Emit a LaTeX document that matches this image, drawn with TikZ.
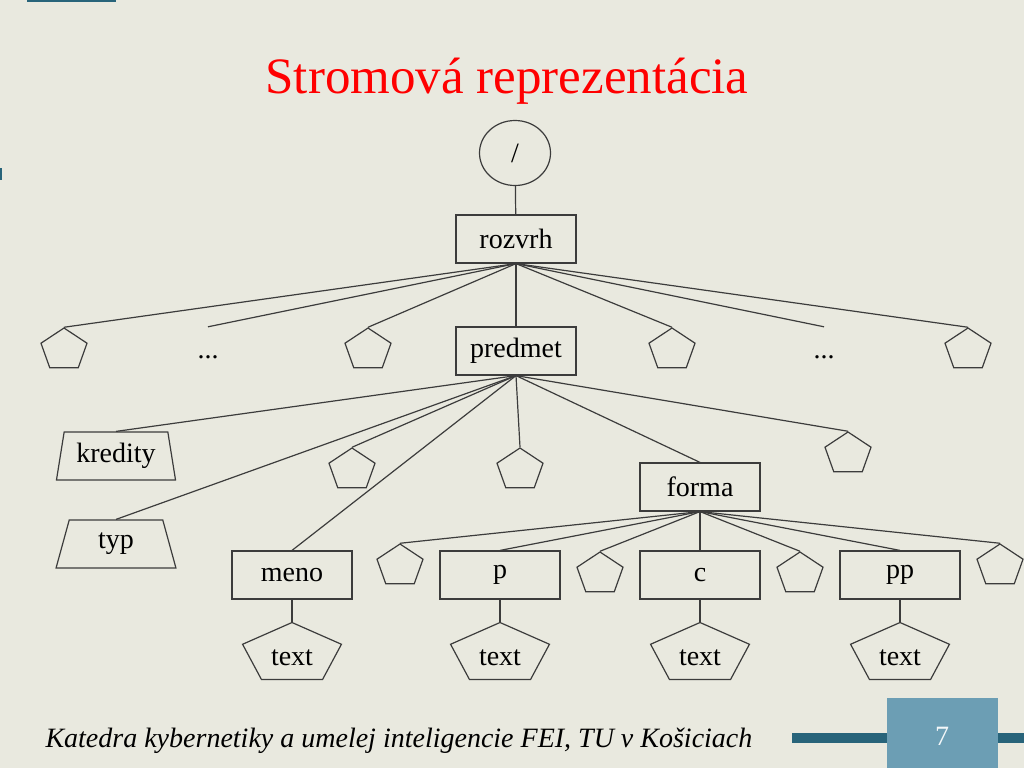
\documentclass[tikz,border=0pt]{standalone}
\usepackage{fontspec}
\setmainfont{Liberation Serif}
\usetikzlibrary{shapes.geometric, positioning}
\definecolor{slideBg}{RGB}{233,233,223}
\definecolor{lineGray}{RGB}{60,60,60}
\definecolor{titleRed}{RGB}{255,0,0}
\definecolor{barTeal}{RGB}{40,100,122}
\definecolor{boxTeal}{RGB}{108,158,180}

\begin{document}
\begin{tikzpicture}[x=1pt, y=-1pt,
every node/.style={font=\fontsize{28}{32}\selectfont},
box/.style={rectangle, draw=lineGray, line width=1.2pt,
minimum width=120pt, minimum height=48pt, inner sep=0pt},
root/.style={ellipse, draw=lineGray, line width=1.2pt,
minimum width=71pt, minimum height=65pt, inner sep=0pt},
pent/.style={regular polygon, regular polygon sides=5, draw=lineGray,
line width=1.2pt, minimum size=44pt, inner sep=0pt, xscale=1.1},
bigpent/.style={regular polygon, regular polygon sides=5, draw=lineGray,
line width=1.2pt, minimum size=63pt, inner sep=0pt, xscale=1.65},
trap/.style={trapezium, trapezium left angle=77, trapezium right angle=77,
draw=lineGray, line width=1.2pt, trapezium stretches=true,
minimum width=120pt, minimum height=48pt, inner sep=0pt},
etc/.style={inner sep=0pt, text height=31pt, text depth=0pt, anchor=base},
link/.style={draw=lineGray, line width=1.2pt}]

% slide background
\useasboundingbox (0,0) rectangle (1024,768);
\fill[slideBg] (0,0) rectangle (1024,768);
\fill[barTeal] (27,0) rectangle (116,2);
\fill[barTeal] (0,168) rectangle (2,180);

\node[text=titleRed, font=\fontsize{51}{56}\selectfont, anchor=base] (title)
    at (507,93) {Stromová reprezentácia};

% tree
\node[root] (root) at (515,153) {/};
\node[box] (rozvrh) at (516,239) {rozvrh};

\node[pent] (a1) at (64,350) {};
\node[etc] (d1) at (208,358) {...};
\node[pent] (a2) at (368,350) {};
\node[box] (predmet) at (516,351) {predmet};
\node[pent] (a3) at (672,350) {};
\node[etc] (d2) at (824,358) {...};
\node[pent] (a4) at (968,350) {};

\node[trap] (kredity) at (116,456) {kredity};
\node[trap] (typ) at (116,544) {typ};
\node[pent] (b1) at (352,470) {};
\node[box] (meno) at (292,575) {meno};
\node[pent] (b2) at (520,470) {};
\node[box] (forma) at (700,487) {forma};
\node[pent] (b3) at (848,454) {};

\node[pent] (c1) at (400,566) {};
\node[box] (p) at (500,575) {p};
\node[pent] (c2) at (600,574) {};
\node[box] (c) at (700,575) {c};
\node[pent] (c3) at (800,574) {};
\node[box] (pp) at (900,575) {pp};
\node[pent] (c4) at (1000,566) {};

\node[bigpent] (t1) at (292,654) {};
\node[bigpent] (t2) at (500,654) {};
\node[bigpent] (t3) at (700,654) {};
\node[bigpent] (t4) at (900,654) {};
\node (t1txt) at (292,658) {text};
\node (t2txt) at (500,658) {text};
\node (t3txt) at (700,658) {text};
\node (t4txt) at (900,658) {text};

\draw[link] (root)          -- (rozvrh);
\draw[link] (rozvrh.south)  -- (a1.north);
\draw[link] (rozvrh.south)  -- (d1.north);
\draw[link] (rozvrh.south)  -- (a2.north);
\draw[link] (rozvrh.south)  -- (predmet.north);
\draw[link] (rozvrh.south)  -- (a3.north);
\draw[link] (rozvrh.south)  -- (d2.north);
\draw[link] (rozvrh.south)  -- (a4.north);

\draw[link] (predmet.south) -- (kredity.north);
\draw[link] (predmet.south) -- (typ.north);
\draw[link] (predmet.south) -- (b1.north);
\draw[link] (predmet.south) -- (meno.north);
\draw[link] (predmet.south) -- (b2.north);
\draw[link] (predmet.south) -- (forma.north);
\draw[link] (predmet.south) -- (b3.north);

\draw[link] (forma.south)   -- (c1.north);
\draw[link] (forma.south)   -- (p.north);
\draw[link] (forma.south)   -- (c2.north);
\draw[link] (forma.south)   -- (c.north);
\draw[link] (forma.south)   -- (c3.north);
\draw[link] (forma.south)   -- (pp.north);
\draw[link] (forma.south)   -- (c4.north);

\draw[link] (meno)          -- (t1.north);
\draw[link] (p)             -- (t2.north);
\draw[link] (c)             -- (t3.north);
\draw[link] (pp)            -- (t4.north);

% footer
\node[font=\itshape\fontsize{28}{32}\selectfont, anchor=base west] (footer)
    at (42,747) {Katedra kybernetiky a umelej inteligencie FEI, TU v Košiciach};
\fill[barTeal] (792,733) rectangle (1024,743);
\fill[boxTeal] (887,698) rectangle (998,768);
\node[text=white!92!boxTeal] (pagenum) at (942,736) {7};
\end{tikzpicture}
\end{document}
